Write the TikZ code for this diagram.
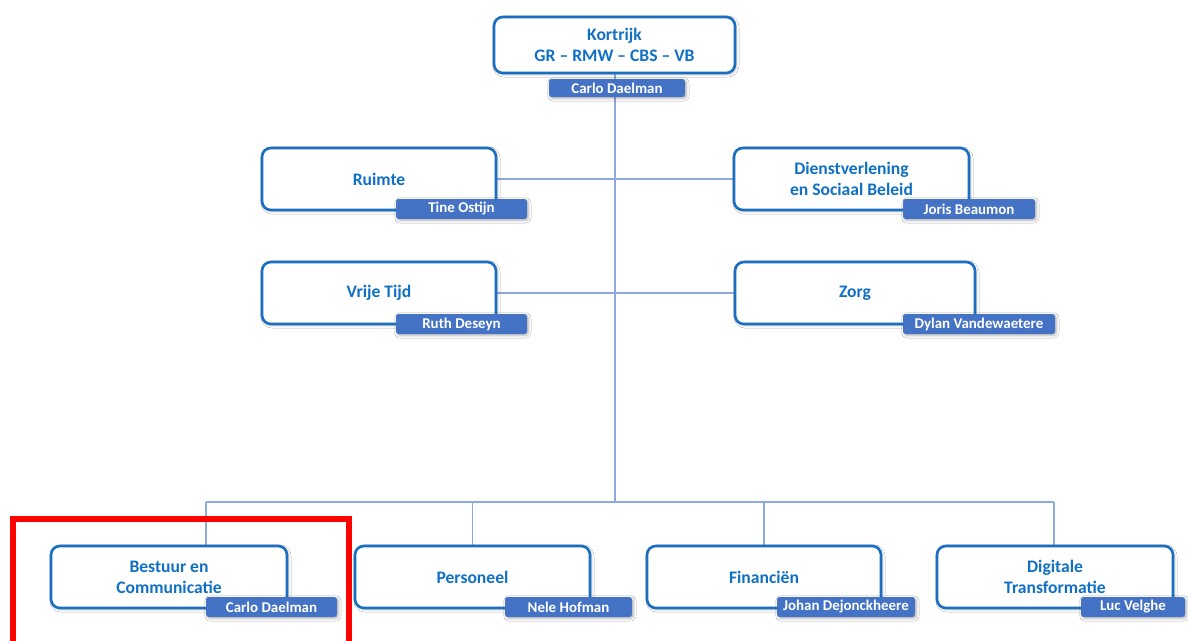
\documentclass[tikz,border=0pt]{standalone}
\usepackage{fontspec}
\setmainfont{Carlito}
\usetikzlibrary{shadows.blur}
\definecolor{boxblue}{HTML}{1B6FC0}
\definecolor{txtblue}{HTML}{1070C4}
\definecolor{namefill}{HTML}{4472C4}
\definecolor{linkblue}{HTML}{8EA9DB}
\pgfdeclarelayer{background}
\pgfsetlayers{background,main}
\tikzset{
  orgbox/.style={draw=boxblue, line width=1.5pt, rounded corners=5pt, fill=white,
    text=txtblue, font=\bfseries\fontsize{10}{12}\selectfont, align=center,
    inner sep=0pt,
    blur shadow={shadow xshift=0.8pt, shadow yshift=-0.8pt, shadow blur radius=1.5pt, shadow blur steps=6, shadow opacity=25}},
  namebox/.style={fill=namefill, rounded corners=1.5pt, text=white,
    font=\bfseries\fontsize{8.5}{10}\selectfont, inner sep=0pt, minimum height=20*0.02cm,
    blur shadow={shadow xshift=0.8pt, shadow yshift=-0.8pt, shadow blur radius=1.5pt, shadow blur steps=6, shadow opacity=30}},
  link/.style={draw=linkblue, line width=0.7pt},
}
\begin{document}
\begin{tikzpicture}[x=0.02cm,y=-0.02cm]
\useasboundingbox (0,0) rectangle (1188,640);
% main boxes
\node[orgbox, minimum width=241*0.02cm, minimum height=56*0.02cm] (K) at (614.5,45) {Kortrijk\\GR -- RMW -- CBS -- VB};
\node[namebox, minimum width=136*0.02cm, minimum height=18*0.02cm] (Kn) at (617,88) {Carlo Daelman};

\node[orgbox, minimum width=234*0.02cm, minimum height=62*0.02cm] (R) at (379,179) {Ruimte};
\node[namebox, minimum width=131*0.02cm] (Rn) at (461.5,209) {Tine Ostijn};

\node[orgbox, minimum width=235*0.02cm, minimum height=62*0.02cm] (D) at (851.5,179) {Dienstverlening\\en Sociaal Beleid};
\node[namebox, minimum width=132*0.02cm] (Dn) at (969,209) {Joris Beaumon};

\node[orgbox, minimum width=234*0.02cm, minimum height=62*0.02cm] (V) at (379,293) {Vrije Tijd};
\node[namebox, minimum width=131*0.02cm] (Vn) at (461.5,324) {Ruth Deseyn};

\node[orgbox, minimum width=240*0.02cm, minimum height=62*0.02cm] (Z) at (855,293) {Zorg};
\node[namebox, minimum width=152*0.02cm] (Zn) at (979,324) {Dylan Vandewaetere};

\node[orgbox, minimum width=236*0.02cm, minimum height=62*0.02cm] (B) at (169,577) {Bestuur en\\Communicatie};
\node[namebox, minimum width=131*0.02cm] (Bn) at (271.5,607) {Carlo Daelman};

\node[orgbox, minimum width=235*0.02cm, minimum height=62*0.02cm] (P) at (472.5,577) {Personeel};
\node[namebox, minimum width=127*0.02cm] (Pn) at (568.5,607) {Nele Hofman};

\node[orgbox, minimum width=234*0.02cm, minimum height=62*0.02cm] (F) at (764,577) {Financiën};
\node[namebox, minimum width=138*0.02cm] (Fn) at (846,607) {Johan Dejonckheere};

\node[orgbox, minimum width=236*0.02cm, minimum height=62*0.02cm] (G) at (1055,577) {Digitale\\Transformatie};
\node[namebox, minimum width=104*0.02cm] (Gn) at (1133,607) {Luc Velghe};

\coordinate (bus) at (615,502);
\coordinate (busL) at (206,502);
\coordinate (busR) at (1054,502);

\begin{pgfonlayer}{background}
\fill[white] (0,0) rectangle (1188,640);
\draw[link] (K.south -| bus) -- (bus);
\draw[link] (R.east) -- (D.west);
\draw[link] (V.east) -- (Z.west);
\draw[link] (busL) -- (busR);
\draw[link] (busL) -- (busL |- B.north);
\draw[link] (busL -| P.north) -- (P.north);
\draw[link] (busL -| F.north) -- (F.north);
\draw[link] (busR) -- (busR |- G.north);
\end{pgfonlayer}

% red highlight frame
\draw[red, line width=3.4pt] (13,645) -- (13,519) -- (349,519) -- (349,645);
\end{tikzpicture}
\end{document}
